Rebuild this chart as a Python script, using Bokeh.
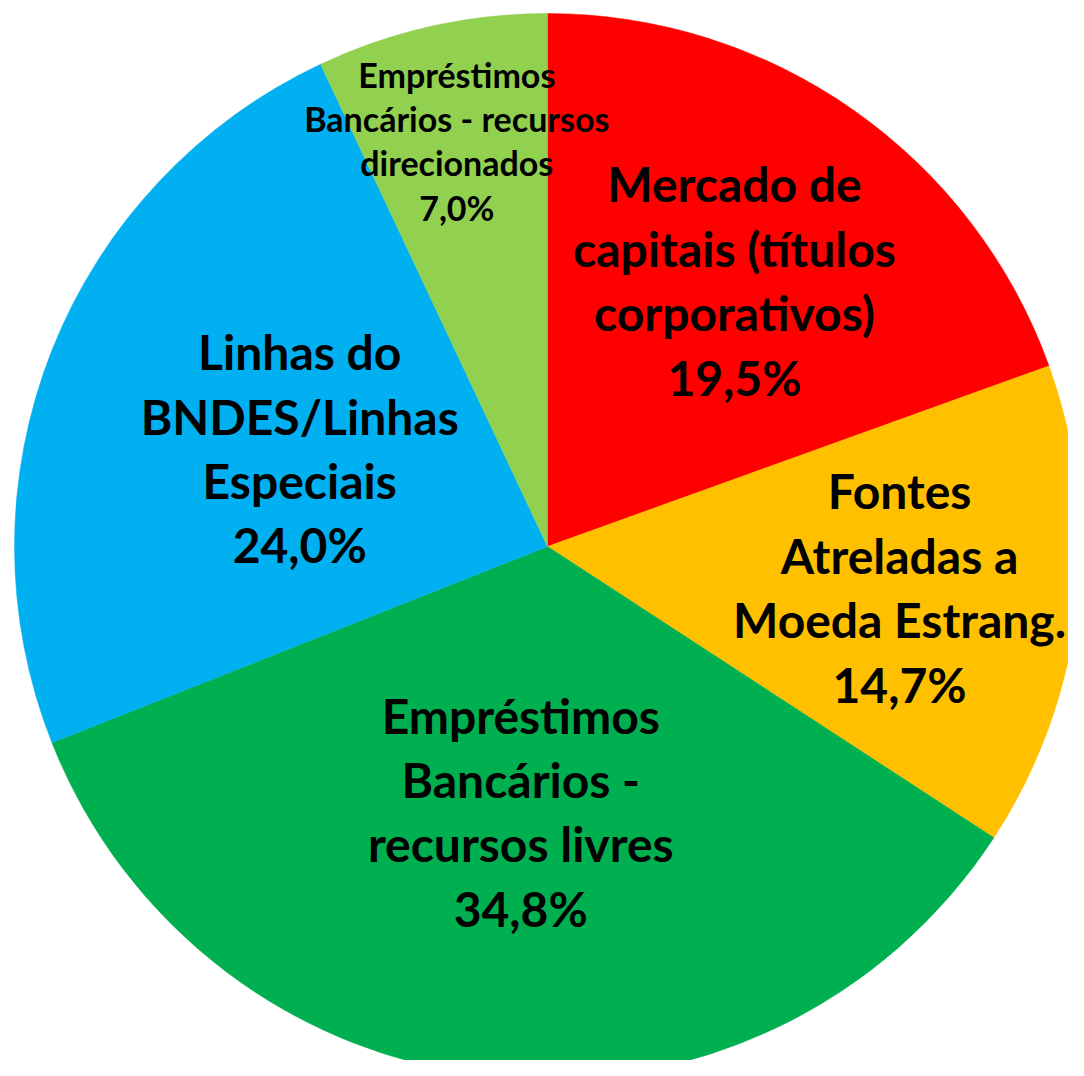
import math
from bokeh.plotting import figure
from bokeh.models import Range1d, ColumnDataSource
from bokeh.core.properties import value
from bokeh.embed import file_html
from bokeh.resources import INLINE

# ---- data ----
categories = [
    "Mercado de\ncapitais (títulos\ncorporativos)",
    "Fontes\nAtreladas a\nMoeda Estrang.",
    "Empréstimos\nBancários -\nrecursos livres",
    "Linhas do\nBNDES/Linhas\nEspeciais",
    "Empréstimos\nBancários - recursos\ndirecionados",
]
shares = [19.5, 14.7, 34.8, 24.0, 7.0]
pct_labels = ["19,5%", "14,7%", "34,8%", "24,0%", "7,0%"]

# ---- styling / layout ----
colors = ["#FF0000", "#FFC000", "#00B050", "#00B0F0", "#92D050"]
label_radius_frac = [0.61, 0.665, 0.50, 0.50, 0.78]
label_sizes = ["48px", "48px", "48px", "48px", "34px"]
line_heights = [1.13, 1.13, 1.13, 1.13, 1.08]

W, H = 1068, 1060
cx, cy, R = 547, -546, 533

p = figure(width=W, height=H, output_backend="svg", toolbar_location=None,
           x_range=Range1d(0, W), y_range=Range1d(-H, 0),
           min_border=0, outline_line_color=None)
p.axis.visible = False
p.grid.visible = False
p.background_fill_color = "white"
p.border_fill_color = "white"

total = sum(shares)
starts, ends, mids = [], [], []
cum = 0.0
for s in shares:
    a0 = cum / total * 2 * math.pi
    cum += s
    a1 = cum / total * 2 * math.pi
    # clockwise from 12 o'clock
    starts.append(math.pi / 2 - a1)
    ends.append(math.pi / 2 - a0)
    mids.append(math.pi / 2 - (a0 + a1) / 2)

src = ColumnDataSource(dict(start=starts, end=ends, color=colors))
p.wedge(x=cx, y=cy, radius=R, start_angle="start", end_angle="end",
        fill_color="color", line_color="color", line_width=0.5, source=src)

for i in range(len(shares)):
    r = label_radius_frac[i] * R
    lx = cx + r * math.cos(mids[i])
    ly = cy + r * math.sin(mids[i])
    txt = categories[i] + "\n" + pct_labels[i]
    p.text(x=[lx], y=[ly], text=[txt], text_align="center", text_baseline="middle",
           text_font=value("Lato"), text_font_style="bold",
           text_font_size=label_sizes[i], text_line_height=line_heights[i],
           text_color="black")

open("out.html", "w").write(file_html(p, INLINE))
